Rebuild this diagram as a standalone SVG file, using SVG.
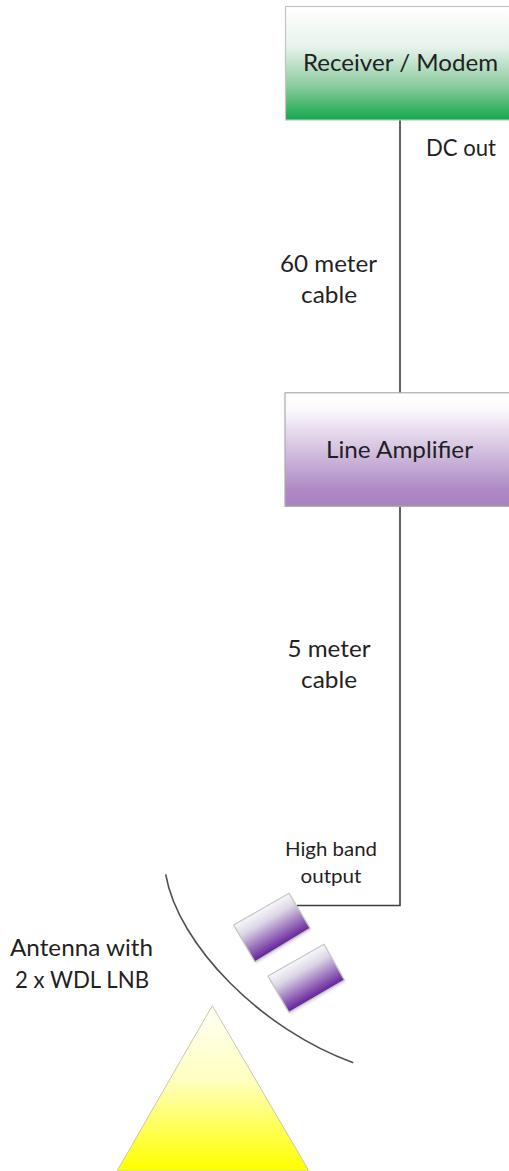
<svg xmlns="http://www.w3.org/2000/svg" width="509" height="1171" viewBox="0 0 509 1171">
<style>
text{font-family:Lato,"Open Sans",sans-serif;fill:#1f1f24;text-anchor:middle}
.b{font-size:24px}.m{font-size:23.500px}.s{font-size:20px}
.c{fill:none;stroke:#3c3c3c;stroke-width:1.6}
.e{stroke:#c4c4c4;stroke-width:1.2}
</style>
<defs>
<linearGradient id="g" x1="0" y1="0" x2="0" y2="1"><stop offset="0" stop-color="#fff"/><stop offset=".35" stop-color="#e8f3ec"/><stop offset=".7" stop-color="#8ccb9f"/><stop offset="1" stop-color="#13a84c"/></linearGradient>
<linearGradient id="p" x1="0" y1="0" x2="0" y2="1"><stop offset="0" stop-color="#fff"/><stop offset=".15" stop-color="#fbf9fc"/><stop offset=".85" stop-color="#ae8ac5"/><stop offset="1" stop-color="#a982c1"/></linearGradient>
<linearGradient id="y" x1="0" y1="0" x2="0" y2="1"><stop offset="0" stop-color="#fffff6"/><stop offset=".45" stop-color="#ffffc0"/><stop offset=".85" stop-color="#ffff30"/><stop offset="1" stop-color="#ffff00"/></linearGradient>
<linearGradient id="lg1" gradientUnits="userSpaceOnUse" x1="261.300" y1="909" x2="282.500" y2="945.200"><stop offset="0" stop-color="#f8f8fb"/><stop offset=".3" stop-color="#dcd6e6"/><stop offset="1" stop-color="#65219a"/></linearGradient>
<linearGradient id="lg2" gradientUnits="userSpaceOnUse" x1="296" y1="960.100" x2="316.700" y2="996.100"><stop offset="0" stop-color="#f8f8fb"/><stop offset=".3" stop-color="#dcd6e6"/><stop offset="1" stop-color="#65219a"/></linearGradient>
<filter id="sh" x="-10%" y="-10%" width="120%" height="120%"><feGaussianBlur stdDeviation="1.200"/></filter>
</defs>
<rect width="509" height="1171" fill="#fff"/>
<g id="connectors">
<path class="c" d="M400 120V393"/>
<path class="c" d="M400 506V905.500H297"/>
<path class="c" style="stroke:#505050" d="M165.700 874.300C178 945 262 1030 353.300 1062.700"/>
</g>
<g id="receiver">
<rect x="285.500" y="6.500" width="230" height="113.500" fill="url(#g)" class="e"/>
<text class="b" x="400.500" y="71" textLength="195" lengthAdjust="spacingAndGlyphs">Receiver / Modem</text>
</g>
<g id="amplifier">
<rect x="285" y="392.800" width="230" height="113.500" fill="url(#p)" stroke="#aaa" stroke-width="1.200"/>
<text class="b" x="399.500" y="457.500" textLength="147" lengthAdjust="spacingAndGlyphs">Line Amplifier</text>
</g>
<g id="lnb1"><polygon points="289,893.300 310,928.300 255,961.700 233.700,925" fill="#bbb" opacity=".5" filter="url(#sh)" transform="translate(1 2)"/><polygon points="289,893.300 310,928.300 255,961.700 233.700,925" class="e" style="fill:url(#lg1)"/></g>
<g id="lnb2"><polygon points="324,944.300 344.300,980 289,1012.300 268,976" fill="#bbb" opacity=".5" filter="url(#sh)" transform="translate(1 2)"/><polygon points="324,944.300 344.300,980 289,1012.300 268,976" class="e" style="fill:url(#lg2)"/></g>
<g id="antenna"><polygon points="212.300,1005.700 309,1171 117,1171" fill="url(#y)" stroke="#c9c9a8" stroke-width="1"/></g>
<g id="labels">
<text class="m" x="461" y="156" textLength="70" lengthAdjust="spacingAndGlyphs">DC out</text>
<text class="m" x="328.500" y="272" textLength="97" lengthAdjust="spacingAndGlyphs">60 meter</text>
<text class="m" x="329" y="303" textLength="56" lengthAdjust="spacingAndGlyphs">cable</text>
<text class="m" x="329" y="657" textLength="83" lengthAdjust="spacingAndGlyphs">5 meter</text>
<text class="m" x="329" y="688" textLength="56" lengthAdjust="spacingAndGlyphs">cable</text>
<text class="s" x="331" y="856" textLength="92" lengthAdjust="spacingAndGlyphs">High band</text>
<text class="s" x="331" y="883" textLength="61" lengthAdjust="spacingAndGlyphs">output</text>
<text class="m" x="81.500" y="956" textLength="143" lengthAdjust="spacingAndGlyphs">Antenna with</text>
<text class="m" x="82" y="988" textLength="134" lengthAdjust="spacingAndGlyphs">2 x WDL LNB</text>
</g>
</svg>
